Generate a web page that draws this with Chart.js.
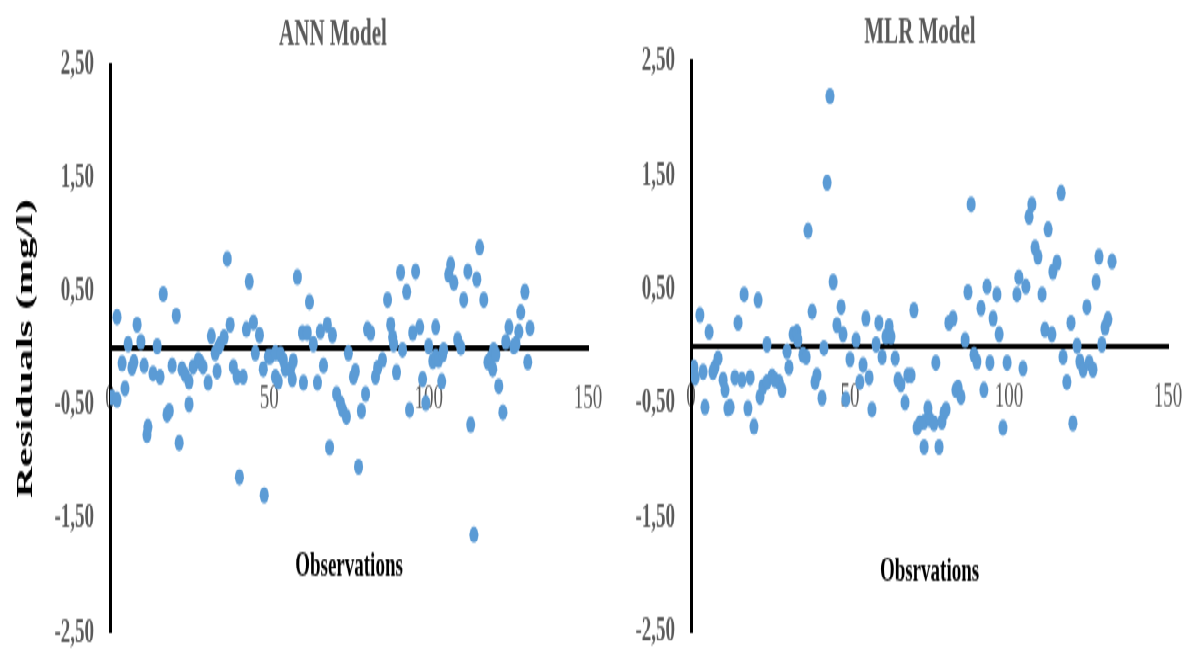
<!DOCTYPE html>
<html>
<head>
<meta charset="utf-8">
<script src="https://cdn.jsdelivr.net/npm/chart.js@4.4.0/dist/chart.umd.min.js"></script>
<style>
  html { overflow: hidden; }
  body { margin: 0; padding: 0; background: #fff; width: 1184px; height: 653px; }
  /* the source picture is a vertically stretched chart, so draw flat and stretch */
  #stage { position: relative; width: 1184px; height: 363px; transform: scaleY(1.799); transform-origin: 0 0; }
  #annChart { position: absolute; left: 0; top: 0; }
  #mlrChart { position: absolute; left: 600px; top: 0; }
</style>
</head>
<body>
<div id="stage">
  <canvas id="annChart" width="605" height="363"></canvas>
  <canvas id="mlrChart" width="584" height="363"></canvas>
</div>
<script>
const xTicks = [0, 50, 100, 150];
const yTicks = [-2.5, -1.5, -0.5, 0.5, 1.5, 2.5];

const annObs = [
  0.6, 2.2, 2.2, 3.8, 4.7, 5.7, 6.9, 7.5, 8.5, 9.7,
  10.7, 11.6, 11.9, 13.5, 14.8, 15.7, 16.7, 17.9, 18.6, 19.5,
  20.8, 21.7, 22.6, 23.6, 24.8, 24.8, 26.1, 27.7, 28.3, 29.2,
  30.8, 31.8, 33.0, 33.6, 34.0, 34.6, 35.8, 36.8, 37.7, 38.7,
  39.9, 40.6, 41.8, 42.8, 43.7, 45.0, 45.6, 46.9, 48.1, 48.4,
  49.7, 50.3, 51.9, 51.9, 52.8, 53.5, 54.4, 55.0, 56.6, 57.2,
  57.5, 58.8, 60.4, 60.7, 61.9, 62.6, 63.8, 65.1, 66.0, 67.0,
  68.2, 68.9, 69.8, 71.1, 72.3, 73.0, 74.2, 74.8, 76.4, 77.0,
  78.0, 78.9, 80.2, 80.8, 81.8, 83.3, 84.0, 85.5, 87.1, 88.1,
  88.7, 89.0, 89.9, 91.2, 91.8, 93.1, 94.0, 95.0, 95.9, 97.2,
  98.1, 99.1, 100.0, 101.3, 102.2, 102.2, 103.1, 104.1, 104.4, 104.7,
  106.3, 106.9, 107.9, 109.1, 110.1, 111.0, 112.3, 113.2, 114.2, 115.1,
  116.0, 117.3, 118.6, 119.5, 120.1, 120.4, 121.1, 122.0, 123.3, 124.2,
  125.2, 126.7, 127.4, 128.3, 128.9, 130.2, 131.1, 131.8
];
const annResid = [
  -0.43, -0.45, 0.28, -0.13, -0.35, 0.04, -0.17, -0.12, 0.21, 0.06,
  -0.15, -0.76, -0.69, -0.22, 0.02, -0.25, 0.48, -0.58, -0.55, -0.15,
  0.29, -0.83, -0.18, -0.23, -0.29, -0.49, -0.16, -0.10, -0.12, -0.16,
  -0.30, 0.11, -0.04, -0.20, 0.01, 0.04, 0.10, 0.79, 0.21, -0.16,
  -0.25, -1.13, -0.25, 0.17, 0.59, 0.23, -0.04, 0.12, -0.18, -1.29,
  -0.07, -0.07, -0.04, -0.25, -0.29, -0.05, -0.10, -0.18, -0.18, -0.27,
  -0.11, 0.63, 0.14, -0.30, 0.14, 0.41, 0.04, -0.30, 0.15, -0.15,
  0.21, -0.87, 0.12, -0.40, -0.48, -0.54, -0.60, -0.04, -0.25, -0.20,
  -1.04, -0.55, -0.40, 0.17, 0.14, -0.25, -0.17, -0.10, 0.43, 0.21,
  0.10, 0.04, -0.21, 0.67, -0.01, 0.50, -0.54, 0.14, 0.68, 0.19,
  -0.27, -0.48, 0.02, -0.11, -0.07, 0.19, -0.10, -0.29, -0.05, -0.01,
  0.65, 0.74, 0.58, 0.08, 0.01, 0.43, 0.68, -0.67, -1.64, 0.61,
  0.89, 0.43, -0.12, -0.08, -0.18, -0.01, -0.05, -0.33, -0.56, 0.06,
  0.19, 0.02, 0.04, 0.15, 0.32, 0.50, -0.12, 0.18
];

const mlrObs = [
  0.9, 1.3, 2.8, 3.8, 4.4, 5.7, 6.9, 7.5, 8.5, 10.1,
  10.7, 11.6, 12.3, 13.8, 14.8, 16.0, 16.7, 17.9, 18.6, 19.8,
  21.1, 21.7, 22.6, 23.9, 23.9, 25.5, 26.4, 27.7, 28.6, 30.2,
  30.8, 32.1, 33.3, 33.6, 35.2, 36.2, 36.8, 38.1, 39.0, 39.6,
  41.2, 41.8, 42.8, 43.7, 44.7, 45.9, 47.2, 47.8, 48.7, 50.0,
  51.9, 53.1, 54.1, 55.0, 56.0, 56.9, 58.2, 59.1, 60.1, 61.3,
  62.3, 62.9, 64.2, 65.1, 66.0, 67.3, 68.2, 69.2, 70.1, 71.1,
  72.0, 73.3, 73.3, 74.5, 75.2, 76.4, 77.0, 78.0, 78.9, 79.6,
  80.2, 81.1, 82.4, 83.3, 84.0, 84.9, 86.2, 87.1, 88.1, 89.0,
  89.9, 91.2, 92.1, 93.1, 94.0, 95.0, 96.2, 96.9, 98.1, 99.4,
  102.5, 103.1, 104.4, 105.3, 106.3, 107.2, 108.2, 109.1, 110.4, 111.3,
  112.3, 113.5, 113.8, 115.1, 116.4, 117.0, 118.2, 119.5, 120.1, 121.4,
  122.3, 123.3, 124.5, 125.2, 126.4, 127.4, 128.3, 129.2, 130.2, 131.1,
  132.4
];
const mlrResid = [
  -0.18, -0.27, 0.28, -0.22, -0.53, 0.13, -0.22, -0.18, -0.10, -0.29,
  -0.38, -0.54, -0.53, -0.27, 0.21, -0.29, 0.46, -0.54, -0.27, -0.70,
  0.41, -0.44, -0.35, -0.31, 0.02, -0.26, -0.29, -0.31, -0.38, -0.04,
  -0.18, 0.11, 0.13, 0.06, -0.07, -0.09, 1.02, 0.31, -0.31, -0.25,
  -0.45, -0.01, 1.44, 2.20, 0.57, 0.19, 0.35, 0.11, -0.46, -0.11,
  0.06, -0.31, -0.16, 0.25, -0.27, -0.55, 0.02, 0.21, -0.09, 0.09,
  0.18, 0.09, -0.10, -0.29, -0.33, -0.49, -0.25, -0.25, 0.32, -0.71,
  -0.67, -0.66, -0.88, -0.54, -0.64, -0.67, -0.14, -0.88, -0.66, -0.58,
  -0.55, 0.21, 0.25, -0.38, -0.36, -0.44, 0.06, 0.48, 1.25, -0.07,
  -0.13, 0.34, -0.38, 0.53, -0.14, 0.25, 0.46, 0.11, -0.71, -0.14,
  0.46, 0.61, -0.19, 0.53, 1.14, 1.25, 0.87, 0.79, 0.46, 0.15,
  1.03, 0.11, 0.66, 0.74, 1.35, -0.09, -0.31, 0.21, -0.67, 0.01,
  -0.13, -0.20, 0.35, -0.14, -0.20, 0.57, 0.79, 0.02, 0.17, 0.24,
  0.75
];

Chart.defaults.font.family = "'Liberation Serif', 'Times New Roman', serif";

// title drawn by hand so it can sit a bit left of the plot centre, like the original
const panelTitle = {
  id: 'panelTitle',
  afterDraw(chart, args, opts) {
    const ctx = chart.ctx;
    ctx.save();
    ctx.font = "bold 21px 'Liberation Serif', serif";
    ctx.fillStyle = '#595959';
    ctx.textAlign = 'center';
    ctx.textBaseline = 'middle';
    ctx.fillText(opts.text, opts.x, opts.y);
    ctx.restore();
  }
};

function makeChart(id, obs, resid, cfg) {
  const points = obs.map((x, i) => ({ x: x, y: resid[i] }));
  return new Chart(document.getElementById(id), {
    type: 'scatter',
    data: {
      datasets: [{
        data: points,
        backgroundColor: '#5B9BD5',
        borderColor: '#5B9BD5',
        borderWidth: 0,
        pointRadius: 4.5,
        pointHoverRadius: 4.5
      }]
    },
    plugins: [panelTitle],
    options: {
      responsive: false,
      animation: false,
      layout: { padding: cfg.padding },
      plugins: {
        legend: { display: false },
        tooltip: { enabled: false },
        panelTitle: { text: cfg.title, x: cfg.titleX, y: cfg.titleY }
      },
      scales: {
        x: {
          type: 'linear',
          min: 0,
          max: 150,
          position: { y: 0 },
          afterBuildTicks: axis => { axis.ticks = xTicks.map(v => ({ value: v })); },
          afterFit: axis => {
            axis.paddingLeft = 0;
            axis.paddingRight = 0;
          },
          grid: { display: false, drawTicks: false },
          border: { display: true, color: '#000', width: 3 },
          ticks: { padding: 17, color: '#595959', maxRotation: 0, autoSkip: false, font: { size: 19 } },
          title: {
            display: true,
            text: cfg.xTitle,
            color: '#000',
            padding: { top: cfg.xTitlePad, bottom: 0 },
            font: { size: 19, weight: 'bold' }
          }
        },
        y: {
          type: 'linear',
          min: -2.5,
          max: 2.5,
          position: 'left',
          afterBuildTicks: axis => { axis.ticks = yTicks.map(v => ({ value: v })); },
          afterFit: axis => {
            axis.width = cfg.yWidth;
            // let layout.padding alone decide the plot's top and bottom
            axis.paddingTop = 0;
            axis.paddingBottom = 0;
          },
          grid: { display: false, drawTicks: false },
          border: { display: true, color: '#000', width: 3 },
          ticks: {
            padding: 16,
            color: '#595959',
            font: { size: 19, weight: 'bold' },
            callback: v => v.toFixed(2).replace('.', ',')
          },
          title: {
            display: cfg.yTitle !== '',
            text: cfg.yTitle,
            color: '#000',
            padding: { top: 11, bottom: 0 },
            font: { size: 24, weight: 'bold' }
          }
        }
      }
    }
  });
}

makeChart('annChart', annObs, annResid, {
  title: 'ANN Model', titleX: 333, titleY: 19.5,
  xTitle: 'Observations', xTitlePad: 53.5,
  yTitle: 'Residuals (mg/l)', yWidth: 110,
  padding: { top: 36, right: 17, bottom: 11.4, left: 0 }
});

makeChart('mlrChart', mlrObs, mlrResid, {
  title: 'MLR Model', titleX: 320, titleY: 18.3,
  xTitle: 'Obsrvations', xTitlePad: 57.5,
  yTitle: '', yWidth: 91,
  padding: { top: 34.5, right: 16, bottom: 11.9, left: 0 }
});
</script>
</body>
</html>
